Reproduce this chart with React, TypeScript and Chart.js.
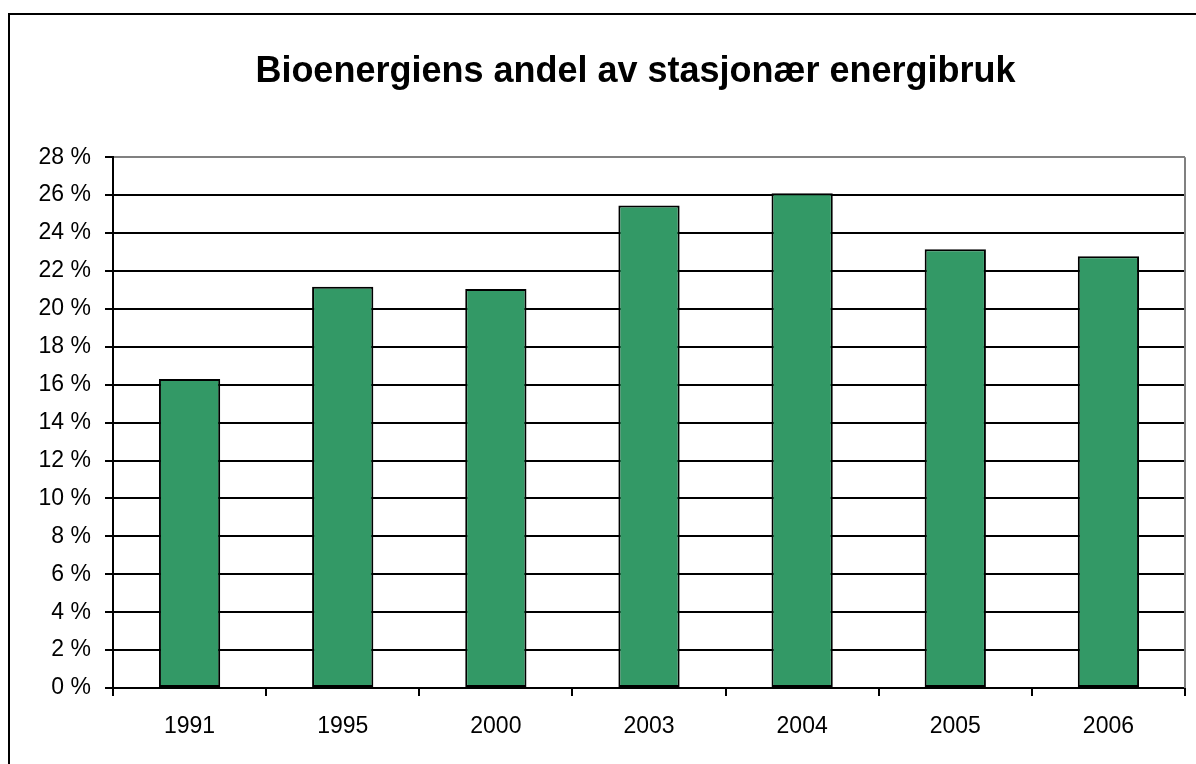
import React, { useEffect, useRef } from "react";
import { Chart, registerables } from "chart.js";

Chart.register(...registerables);

const categories = ["1991", "1995", "2000", "2003", "2004", "2005", "2006"];
const shares = [16.3, 21.17, 21.05, 25.45, 26.1, 23.15, 22.78];
const yMin = 0;
const yMax = 28;
const yStep = 2;
const titleText = "Bioenergiens andel av stasjonær energibruk";

const FONT = "'Liberation Sans', Arial, sans-serif";

const plotBorderPlugin = {
  id: "plotBorder",
  afterLayout(chart: any) {
    // centre the title over the whole chart frame, as in the original
    const t = chart.titleBlock;
    if (t) {
      t.left = chart.chartArea.left - 27;
      t.width = t.right - t.left;
    }
  },
  beforeDatasetsDraw(chart: any) {
    const { ctx, chartArea } = chart;
    ctx.save();
    ctx.strokeStyle = "#808080";
    ctx.lineWidth = 2;
    ctx.beginPath();
    ctx.moveTo(chartArea.right, chartArea.top);
    ctx.lineTo(chartArea.right, chartArea.bottom);
    ctx.stroke();
    ctx.restore();
  },
};

export default function App() {
  const canvasRef = useRef<HTMLCanvasElement | null>(null);

  useEffect(() => {
    if (!canvasRef.current) return;
    const chart = new Chart(canvasRef.current, {
      type: "bar",
      data: {
        labels: categories,
        datasets: [
          {
            data: shares,
            backgroundColor: "#339966",
            borderColor: "#000000",
            borderWidth: 2,
            borderSkipped: false,
            barPercentage: 0.4,
            categoryPercentage: 1,
          },
        ],
      },
      options: {
        animation: false,
        responsive: true,
        maintainAspectRatio: false,
        layout: { padding: { left: 0, right: 11, top: 0, bottom: 16 } },
        plugins: {
          legend: { display: false },
          tooltip: { enabled: false },
          title: {
            display: true,
            text: titleText,
            color: "#000",
            font: { family: FONT, size: 36, weight: "bold" },
            padding: { top: 50, bottom: 64 },
          },
        },
        scales: {
          x: {
            afterFit: (scale: any) => {
              scale.height = 60;
            },
            grid: {
              offset: true,
              drawOnChartArea: false,
              drawTicks: true,
              tickLength: 8,
              color: "#000",
              lineWidth: 2,
            },
            border: { display: true, color: "#000", width: 2 },
            ticks: {
              color: "#000",
              padding: 17,
              font: { family: FONT, size: 23 },
              maxRotation: 0,
            },
          },
          y: {
            min: yMin,
            max: yMax,
            afterFit: (scale: any) => {
              scale.width = 113;
            },
            grid: {
              color: (ctx: any) =>
                ctx.tick && ctx.tick.value === yMax ? "#808080" : "#000",
              tickColor: "#000",
              lineWidth: 2,
              tickLength: 8,
              drawTicks: true,
            },
            border: { display: true, color: "#000", width: 2 },
            ticks: {
              stepSize: yStep,
              color: "#000",
              padding: 14,
              font: { family: FONT, size: 23 },
              callback: (v: any) => `${v} %`,
            },
          },
        },
      },
      plugins: [plotBorderPlugin],
    });
    return () => chart.destroy();
  }, []);

  return (
    <div
      style={{
        position: "fixed",
        left: 0,
        top: 0,
        width: "100vw",
        height: "100vh",
        overflow: "hidden",
        background: "#fff",
      }}
    >
      <div
        style={{
          position: "absolute",
          left: 8,
          top: 13,
          width: 1400,
          height: 900,
          border: "2px solid #000",
          boxSizing: "border-box",
        }}
      />
      <div
        style={{
          position: "absolute",
          left: 0,
          top: 0,
          width: 1196,
          height: 764,
        }}
      >
        <canvas ref={canvasRef} />
      </div>
    </div>
  );
}
